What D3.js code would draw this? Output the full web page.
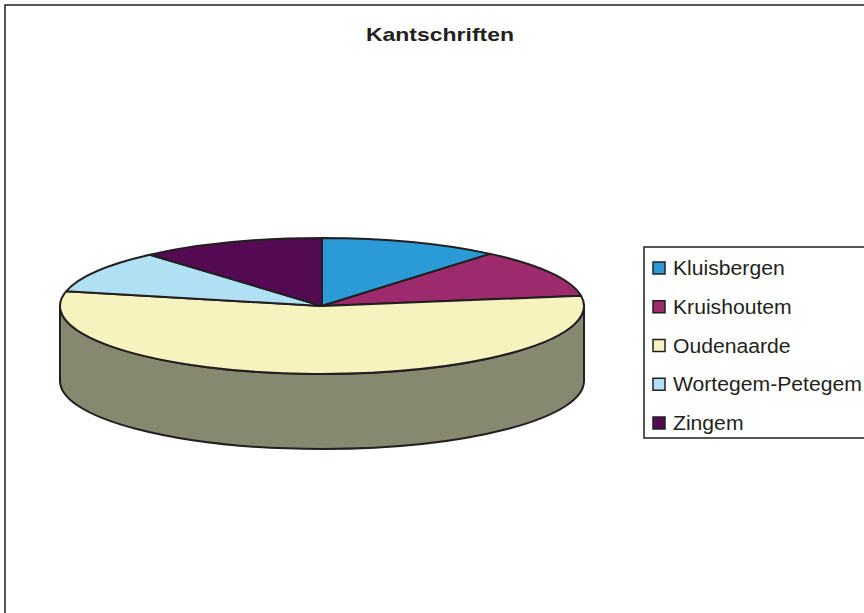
<!DOCTYPE html>
<html>
<head><meta charset="utf-8">
<style>
  body { margin: 0; background: #fff; }
  svg { display: block; font-family: "Liberation Sans", Arial, sans-serif; }
  .edge { stroke: #231f20; stroke-width: 2; stroke-linejoin: round; }
</style>
</head>
<body>
<script src="https://d3js.org/d3.v7.min.js"></script>
<script>
var width = 864, height = 613;

// data
var towns = ["Kluisbergen", "Kruishoutem", "Oudenaarde", "Wortegem-Petegem", "Zingem"];
var counts = [11.1, 11.5, 55.9, 10.1, 11.4];
var colors = ["#2a9bd6", "#9e2a6e", "#f7f3be", "#b0e0f4", "#540a52"];
var sideColors = ["#175577", "#56173c", "#868870", "#607a86", "#2e062d"];

var cx = 322, cy = 306, rx = 262, ry = 68, depth = 75;

var svg = d3.select("body").append("svg")
    .attr("width", width)
    .attr("height", height);

// chart frame (runs off the right / bottom like the original)
svg.append("rect")
    .attr("x", 5).attr("y", 5)
    .attr("width", 1000).attr("height", 1000)
    .attr("fill", "none")
    .attr("stroke", "#231f20")
    .attr("stroke-width", 1.5);

// the original text is a bit stretched sideways, so scale it to the measured width
function stretch(sel, x, targetW) {
  var w = sel.node().getComputedTextLength();
  var k = targetW / w;
  sel.attr("transform", "translate(" + x + ",0) scale(" + k + ",1) translate(" + (-x) + ",0)");
}

var title = svg.append("text")
    .attr("x", 440).attr("y", 41)
    .attr("text-anchor", "middle")
    .attr("font-size", 18)
    .attr("font-weight", "bold")
    .attr("fill", "#231f20")
    .text("Kantschriften");
stretch(title, 440, 148);

var pie = d3.pie().sort(null).value(function(d) { return d.v; });
var slices = pie(towns.map(function(t, i) { return {name: t, v: counts[i], i: i}; }));

function pt(a, dy) {
  return [cx + rx * Math.sin(a), cy - ry * Math.cos(a) + (dy || 0)];
}

function topPath(d) {
  var s = pt(d.startAngle), e = pt(d.endAngle);
  var large = (d.endAngle - d.startAngle) > Math.PI ? 1 : 0;
  return "M" + cx + "," + cy + "L" + s + "A" + rx + "," + ry + " 0 " + large + " 1 " + e + "Z";
}

function sidePath(d) {
  var a0 = Math.max(d.startAngle, Math.PI / 2),
      a1 = Math.min(d.endAngle, 3 * Math.PI / 2);
  if (a1 <= a0) return null;
  var large = (a1 - a0) > Math.PI ? 1 : 0;
  return "M" + pt(a0) + "A" + rx + "," + ry + " 0 " + large + " 1 " + pt(a1) +
         "L" + pt(a1, depth) + "A" + rx + "," + ry + " 0 " + large + " 0 " + pt(a0, depth) + "Z";
}

var g = svg.append("g");

g.selectAll("path.side")
  .data(slices.filter(function(d) { return sidePath(d); }))
  .enter().append("path")
    .attr("class", "side edge")
    .attr("d", sidePath)
    .attr("fill", function(d) { return sideColors[d.data.i]; });

g.selectAll("path.top")
  .data(slices)
  .enter().append("path")
    .attr("class", "top edge")
    .attr("d", topPath)
    .attr("fill", function(d) { return colors[d.data.i]; });

// legend
var legend = svg.append("g");
legend.append("rect")
    .attr("x", 644).attr("y", 247)
    .attr("width", 300).attr("height", 191)
    .attr("fill", "#fff")
    .attr("stroke", "#231f20")
    .attr("stroke-width", 1.5);

var rowY = d3.scalePoint().domain(towns).range([268, 423]);

var rows = legend.selectAll("g.item")
  .data(towns)
  .enter().append("g")
    .attr("class", "item")
    .attr("transform", function(d) { return "translate(0," + rowY(d) + ")"; });

rows.append("rect")
    .attr("x", 653).attr("y", -6)
    .attr("width", 12).attr("height", 12)
    .attr("fill", function(d, i) { return colors[i]; })
    .attr("stroke", "#231f20")
    .attr("stroke-width", 1.5);

var labels = rows.append("text")
    .attr("x", 673).attr("y", 7)
    .attr("font-size", 19.5)
    .attr("fill", "#231f20")
    .text(function(d) { return d; });

// same horizontal stretch for every label, based on the widest one
var longest = labels.filter(function(d) { return d === "Wortegem-Petegem"; });
var kx = 189 / longest.node().getComputedTextLength();
labels.attr("transform", "translate(673,0) scale(" + kx + ",1) translate(-673,0)");
</script>
</body>
</html>
